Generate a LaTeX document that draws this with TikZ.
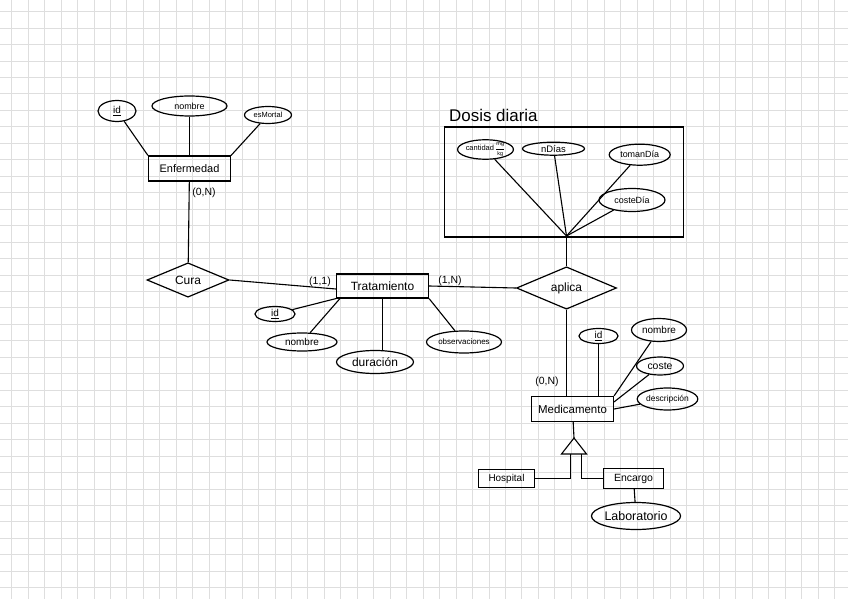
\documentclass[tikz,border=0pt]{standalone}
\usepackage{fontspec}
\setmainfont{Liberation Sans}
\usetikzlibrary{shapes.geometric, positioning}
\definecolor{gridgray}{RGB}{222,222,222}
\tikzset{
  entity/.style={
    rectangle, draw, line width=1.2bp, inner sep=0pt,
    font=\fontsize{11}{13}\selectfont
  },
  attr/.style={
    ellipse, draw, line width=1.2bp, inner sep=0pt,
    font=\fontsize{10}{11}\selectfont
  },
  rel/.style={
    diamond, draw, line width=1.2bp, inner sep=0pt,
    font=\fontsize{12}{13}\selectfont
  },
  card/.style={inner sep=0pt, font=\fontsize{10.5}{12}\selectfont},
  link/.style={line width=1.1bp},
  gridline/.style={gridgray, line width=1bp}
}

\begin{document}
\begin{tikzpicture}[x=1bp, y=-1bp]
  \useasboundingbox[fill=white] (0,0) rectangle (848,599);
  \foreach \i in {0,...,50}
    \draw[gridline] ({11.7+16.46*\i},0) -- ({11.7+16.46*\i},599);
  \foreach \j in {0,...,35}
    \draw[gridline] (0,{11.7+16.46*\j}) -- (848,{11.7+16.46*\j});

  \node[entity, minimum width=82bp, minimum height=25bp] (enf) at (189.5,168.5)
    {Enfermedad};
  \node[attr, minimum width=38bp, minimum height=21bp] (eid) at (117,111)
    {\underline{id}};
  \node[attr, minimum width=75bp, minimum height=20bp,
        font=\fontsize{9}{10}\selectfont] (enom) at (189.5,106) {nombre};
  \node[attr, minimum width=47bp, minimum height=17bp,
        font=\fontsize{7.5}{8}\selectfont] (emor) at (268,115) {esMortal};
  \node[card] (cenf) at (204,193) {(0,N)};

  \node[rel, minimum width=82bp, minimum height=30bp] (cura) at (188,280)
    {Cura};

  \node[entity, minimum width=92bp, minimum height=24bp,
        font=\fontsize{12}{14}\selectfont] (trat) at (382.5,286) {Tratamiento};
  \node[attr, minimum width=40bp, minimum height=15bp] (tid) at (275,314)
    {\underline{id}};
  \node[attr, minimum width=70bp, minimum height=18bp] (tnom) at (302,342)
    {nombre};
  \node[attr, minimum width=77bp, minimum height=23bp,
        font=\fontsize{12}{13}\selectfont] (tdur) at (375,362) {duración};
  \node[attr, minimum width=75bp, minimum height=22bp,
        font=\fontsize{8}{9}\selectfont] (tobs) at (464,342) {observaciones};
  \node[card] (ctr1) at (320,282) {(1,1)};
  \node[card] (ctr2) at (450,281) {(1,N)};

  \node[rel, minimum width=100bp, minimum height=36bp] (apl) at (566.5,288)
    {aplica};

  \node[draw, line width=1.2bp, minimum width=239bp, minimum height=110bp,
        inner sep=0pt] (dosis) at (563.7,182) {};
  \node[anchor=base west, inner sep=0pt, font=\fontsize{17}{19}\selectfont]
    (dtit) at (449,122) {Dosis diaria};
  \coordinate (dd) at (566.5,236);
  \node[attr, minimum width=54bp, minimum height=16bp,
        font=\fontsize{7.5}{8}\selectfont] (dcan) at (485.5,149.5)
    {cantidad\,{\fontsize{5.5}{6}\selectfont
      $\displaystyle\frac{\mathrm{mg}}{\mathrm{kg}}$}};
  \node[attr, minimum width=62bp, minimum height=13bp,
        font=\fontsize{9.5}{10}\selectfont] (dndi) at (553.5,148.7) {nDías};
  \node[attr, minimum width=61bp, minimum height=21bp,
        font=\fontsize{9}{10}\selectfont] (dtom) at (639.7,154.7) {tomanDía};
  \node[attr, minimum width=66bp, minimum height=23bp,
        font=\fontsize{9}{10}\selectfont] (dcos) at (632,200) {costeDía};

  \node[entity, minimum width=82bp, minimum height=25bp,
        font=\fontsize{11.5}{13}\selectfont] (med) at (572.5,409) {Medicamento};
  \node[attr, minimum width=39bp, minimum height=15bp] (mid) at (598.5,336)
    {\underline{id}};
  \node[attr, minimum width=55bp, minimum height=23bp] (mnom) at (659,330)
    {nombre};
  \node[attr, minimum width=47bp, minimum height=18bp,
        font=\fontsize{10.5}{12}\selectfont] (mcos) at (660,366) {coste};
  \node[attr, minimum width=58bp, minimum height=22bp,
        font=\fontsize{8.5}{10}\selectfont] (mdes) at (667.5,399) {descripción};
  \node[card] (cmed) at (547,382) {(0,N)};

  \coordinate (isa) at (574,438);
  \coordinate (isal) at (570.5,454);
  \coordinate (isar) at (581.5,454);
  \node[entity, minimum width=56bp, minimum height=18bp,
        font=\fontsize{10}{11}\selectfont] (hosp) at (506.5,478.5) {Hospital};
  \node[entity, minimum width=60bp, minimum height=20bp,
        font=\fontsize{10.5}{12}\selectfont] (enc) at (633.5,478.5) {Encargo};
  \node[attr, minimum width=89bp, minimum height=27bp,
        font=\fontsize{12.5}{14}\selectfont] (lab) at (636,516) {Laboratorio};

  \draw[link] (eid) -- (enf.north west);
  \draw[link] (enom) -- (enf);
  \draw[link] (emor) -- (enf.north east);
  \draw[link] (enf) -- (cura);
  \draw[link] (cura.east) -- ([yshift=-3bp]trat.west);
  \draw[link] (tid) -- (trat.south west);
  \draw[link] (tnom) -- ([xshift=4bp]trat.south west);
  \draw[link] (trat.south) -- (trat.south |- tdur.north);
  \draw[link] (tobs) -- (trat.south east);
  \draw[link] (trat.east) -- (apl.west);
  \draw[link] (dcan) -- (dd);
  \draw[link] (dndi) -- (dd);
  \draw[link] (dtom) -- (dd);
  \draw[link] (dcos) -- (dd);
  \draw[link] (dd) -- (apl.north);
  \draw[link] (apl) -- (apl |- med.north);
  \draw[link] (mid) -- (mid |- med.north);
  \draw[link] (mnom) -- (med.north east);
  \draw[link] (mcos) -- ([yshift=-6bp]med.north east);
  \draw[link] (mdes) -- (med.east);
  \draw[link] (med) -- (isa);
  \draw[link] (isa) -- ++(-12.5,16) -- ++(25,0) -- cycle;
  \draw[link] (hosp) -| (isal);
  \draw[link] (enc) -| (isar);
  \draw[link] (enc) -- (lab);
\end{tikzpicture}
\end{document}
